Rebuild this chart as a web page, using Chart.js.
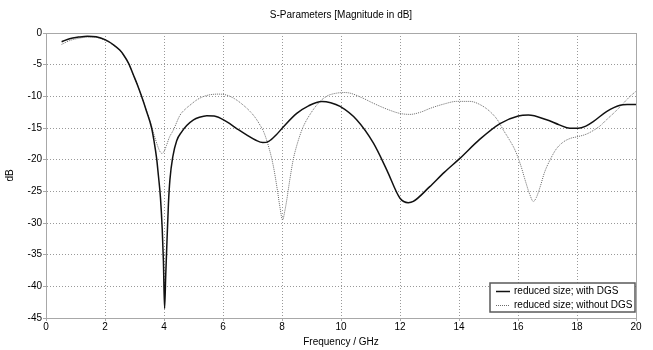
<!DOCTYPE html>
<html>
<head>
<meta charset="utf-8">
<script src="https://cdn.jsdelivr.net/npm/chart.js@4.4.1/dist/chart.umd.min.js"></script>
<style>
html,body{margin:0;padding:0;background:#fff;}
#wrap{width:653px;height:350px;position:relative;}
</style>
</head>
<body>
<div id="wrap"><canvas id="c" width="653" height="350"></canvas></div>
<script>
// ---- data ----
const chartTitle = "S-Parameters [Magnitude in dB]";
const xAxisTitle = "Frequency / GHz";
const yAxisTitle = "dB";
const seriesNames = ["reduced size; with DGS", "reduced size; without DGS"];
const xTicks = [0, 2, 4, 6, 8, 10, 12, 14, 16, 18, 20];
const yTicks = [0, -5, -10, -15, -20, -25, -30, -35, -40, -45];

const freqWith = [0.53,0.8,1.1,1.4,1.7,2.0,2.3,2.5,2.62,2.8,2.96,3.1,3.24,3.41,3.58,3.66,3.75,3.81,3.88,3.94,3.98,4.02,4.06,4.1,4.15,4.2,4.3,4.43,4.6,4.77,5.0,5.2,5.45,5.7,6.12,6.5,6.8,7.1,7.35,7.55,7.8,8.05,8.5,8.9,9.35,9.65,9.97,10.53,11.1,11.55,12.0,12.28,12.45,13.0,13.5,14.03,14.7,15.39,16.01,16.35,16.97,17.4,17.76,18.04,18.3,18.55,19.0,19.46,19.7,20.0];
const dbWith   = [-1.37,-0.9,-0.65,-0.5,-0.6,-1.05,-1.9,-2.7,-3.4,-4.8,-6.6,-8.2,-10,-12.4,-15,-17,-19.8,-22.5,-26,-31,-36,-43.5,-38,-33,-27,-23.2,-19.5,-17,-15.6,-14.6,-13.7,-13.3,-13.05,-13.1,-14,-15.2,-16.1,-16.9,-17.3,-17.1,-16.1,-14.8,-12.7,-11.5,-10.8,-11,-11.6,-13.7,-17.4,-21.6,-26.1,-26.8,-26.6,-24.3,-22,-19.8,-16.8,-14.3,-13.1,-12.95,-13.7,-14.5,-15.05,-15.05,-14.7,-14.0,-12.4,-11.4,-11.3,-11.3];

const freqWithout = [0.53,0.8,1.1,1.4,1.7,2.0,2.3,2.5,2.62,2.8,2.96,3.1,3.24,3.41,3.55,3.66,3.76,3.85,3.92,3.99,4.08,4.18,4.32,4.54,4.75,4.88,5.1,5.3,5.56,5.85,6.12,6.4,6.69,6.92,7.1,7.25,7.37,7.55,7.71,7.85,7.93,8.02,8.1,8.16,8.27,8.38,8.55,8.72,9.0,9.29,9.55,9.85,10.1,10.31,10.7,11.1,11.6,12.0,12.34,12.7,13.02,13.5,13.92,14.37,14.71,15.05,15.3,15.5,15.7,15.9,16.1,16.24,16.4,16.52,16.62,16.75,16.9,17.08,17.3,17.54,17.8,17.99,18.3,18.55,18.8,19.0,19.3,19.57,19.8,20.0];
const dbWithout   = [-1.8,-1.2,-0.85,-0.65,-0.7,-1.15,-1.95,-2.75,-3.45,-4.85,-6.6,-8.2,-10,-12.3,-14.2,-16,-17.5,-18.6,-19,-18.8,-17.8,-16.5,-15.3,-13,-11.9,-11.4,-10.6,-10.1,-9.75,-9.65,-9.8,-10.4,-11.4,-12.4,-13.4,-14.5,-15.5,-18,-21.1,-25,-27.5,-29.5,-28,-26.4,-23,-20,-17,-14.8,-12.5,-10.8,-9.9,-9.5,-9.4,-9.5,-10.2,-11.1,-12.1,-12.7,-12.85,-12.5,-11.9,-11.2,-10.8,-10.8,-11.3,-12.4,-13.7,-15.3,-16.8,-18.5,-21,-23.2,-25.5,-26.6,-26,-24.3,-22,-20.1,-18.3,-17.2,-16.6,-16.4,-16,-15.4,-14.6,-13.7,-12.4,-11.1,-10,-9.2];

// ---- build ----
const toPts = (xs, ys) => xs.map((x, i) => ({x: x, y: ys[i]}));
const FONT = "'Liberation Sans', Arial, sans-serif";

const framePlugin = {
  id: 'frame',
  beforeDatasetsDraw(chart) {
    const {ctx, chartArea: a} = chart;
    ctx.save();
    ctx.strokeStyle = '#a8a8a8';
    ctx.lineWidth = 1;
    ctx.strokeRect(Math.round(a.left) + 0.5, Math.round(a.top) + 0.5, Math.round(a.right - a.left), Math.round(a.bottom - a.top));
    ctx.restore();
  },
  afterDraw(chart) {
    const {ctx, chartArea: a} = chart;
    ctx.save();
    ctx.fillStyle = '#000';
    ctx.font = '10px ' + FONT;
    ctx.textAlign = 'center';
    ctx.textBaseline = 'middle';
    ctx.fillText(chartTitle, (a.left + a.right) / 2, 15);
    const bx = a.right - 146, by = a.bottom - 35, bw = 145, bh = 29;
    ctx.fillStyle = '#fff';
    ctx.fillRect(bx, by, bw, bh);
    ctx.strokeStyle = '#5a5a5a';
    ctx.lineWidth = 1.5;
    ctx.strokeRect(bx, by, bw, bh);
    const ds = chart.data.datasets;
    for (let i = 0; i < ds.length; i++) {
      const y = by + 8 + i * 14;
      ctx.beginPath();
      ctx.strokeStyle = ds[i].borderColor;
      ctx.lineWidth = ds[i].borderWidth;
      ctx.setLineDash(ds[i].borderDash || []);
      ctx.moveTo(bx + 6, y + 0.5);
      ctx.lineTo(bx + 20, y + 0.5);
      ctx.stroke();
      ctx.setLineDash([]);
      ctx.fillStyle = '#000';
      ctx.textAlign = 'left';
      ctx.fillText(ds[i].label, bx + 24, y);
    }
    ctx.restore();
  }
};

new Chart(document.getElementById('c'), {
  type: 'line',
  data: {
    datasets: [
      {label: seriesNames[0], data: toPts(freqWith, dbWith), borderColor: '#111', borderWidth: 1.5, pointRadius: 0, cubicInterpolationMode: 'monotone', fill: false},
      {label: seriesNames[1], data: toPts(freqWithout, dbWithout), borderColor: '#6a6a6a', borderWidth: 1, borderDash: [1, 1], pointRadius: 0, cubicInterpolationMode: 'monotone', fill: false}
    ]
  },
  options: {
    responsive: false,
    animation: false,
    devicePixelRatio: 1,
    layout: {padding: {top: 33, right: 17, left: 0, bottom: 0}},
    plugins: {legend: {display: false}, title: {display: false}, tooltip: {enabled: false}},
    scales: {
      x: {
        type: 'linear', min: 0, max: 20,
        afterBuildTicks: s => { s.ticks = xTicks.map(v => ({value: v})); },
        afterFit: s => { s.height = 32; },
        ticks: {color: '#000', font: {family: FONT, size: 10}, padding: 0, maxRotation: 0},
        grid: {color: '#999', tickColor: '#a8a8a8', tickLength: 3, drawTicks: true},
        border: {display: true, color: '#a8a8a8', dash: [1, 2]},
        title: {display: true, text: xAxisTitle, color: '#000', font: {family: FONT, size: 10}, padding: {top: 0, bottom: 2}}
      },
      y: {
        type: 'linear', min: -45, max: 0,
        afterBuildTicks: s => { s.ticks = yTicks.map(v => ({value: v})); },
        afterFit: s => { s.width = 46; },
        ticks: {color: '#000', font: {family: FONT, size: 10}, padding: 1},
        grid: {color: '#999', tickColor: '#a8a8a8', tickLength: 3},
        border: {display: true, color: '#a8a8a8', dash: [1, 2]},
        title: {display: true, text: yAxisTitle, color: '#000', font: {family: FONT, size: 10}, padding: {top: 4, bottom: 0}}
      }
    }
  },
  plugins: [framePlugin]
});
</script>
</body>
</html>
